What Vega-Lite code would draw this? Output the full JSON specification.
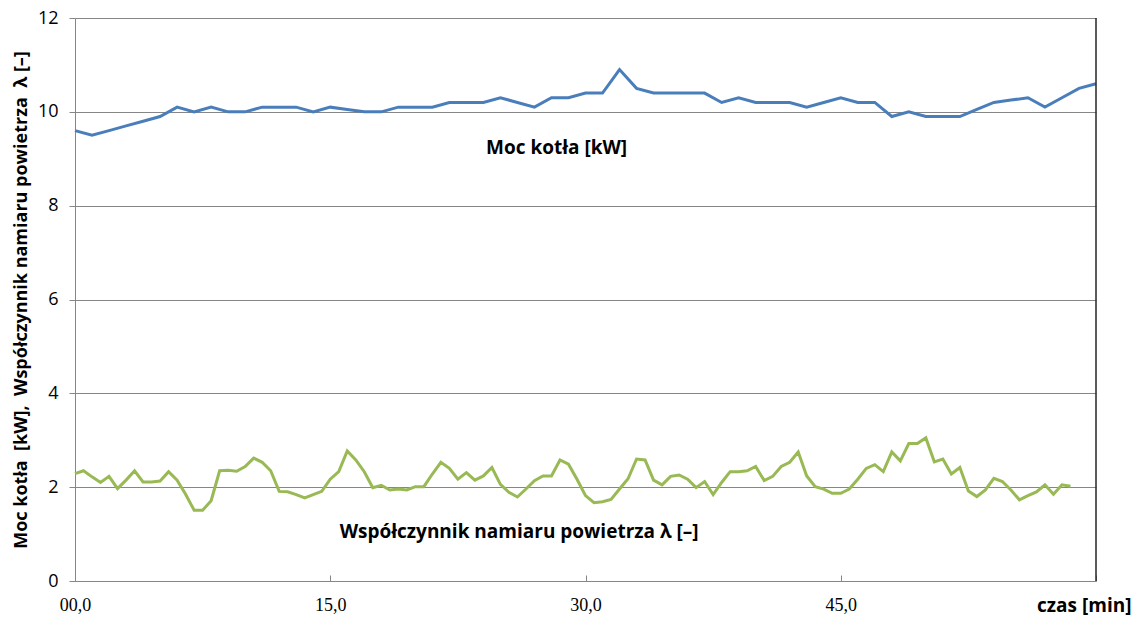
{
  "$schema": "https://vega.github.io/schema/vega-lite/v6.json",
  "width": 1021,
  "height": 563,
  "autosize": "none",
  "padding": {"left": 75, "top": 18, "right": 41, "bottom": 44},
  "background": "white",
  "config": {"view": {"stroke": null}, "font": "Lato"},
  "datasets": {
    "moc": [
      {"t": 0, "v": 9.6}, {"t": 1, "v": 9.5}, {"t": 2, "v": 9.6}, {"t": 3, "v": 9.7}, {"t": 4, "v": 9.8},
      {"t": 5, "v": 9.9}, {"t": 6, "v": 10.1}, {"t": 7, "v": 10.0}, {"t": 8, "v": 10.1}, {"t": 9, "v": 10.0},
      {"t": 10, "v": 10.0}, {"t": 11, "v": 10.1}, {"t": 12, "v": 10.1}, {"t": 13, "v": 10.1}, {"t": 14, "v": 10.0},
      {"t": 15, "v": 10.1}, {"t": 16, "v": 10.05}, {"t": 17, "v": 10.0}, {"t": 18, "v": 10.0}, {"t": 19, "v": 10.1},
      {"t": 20, "v": 10.1}, {"t": 21, "v": 10.1}, {"t": 22, "v": 10.2}, {"t": 23, "v": 10.2}, {"t": 24, "v": 10.2},
      {"t": 25, "v": 10.3}, {"t": 26, "v": 10.2}, {"t": 27, "v": 10.1}, {"t": 28, "v": 10.3}, {"t": 29, "v": 10.3},
      {"t": 30, "v": 10.4}, {"t": 31, "v": 10.4}, {"t": 32, "v": 10.9}, {"t": 33, "v": 10.5}, {"t": 34, "v": 10.4},
      {"t": 35, "v": 10.4}, {"t": 36, "v": 10.4}, {"t": 37, "v": 10.4}, {"t": 38, "v": 10.2}, {"t": 39, "v": 10.3},
      {"t": 40, "v": 10.2}, {"t": 41, "v": 10.2}, {"t": 42, "v": 10.2}, {"t": 43, "v": 10.1}, {"t": 44, "v": 10.2},
      {"t": 45, "v": 10.3}, {"t": 46, "v": 10.2}, {"t": 47, "v": 10.2}, {"t": 48, "v": 9.9}, {"t": 49, "v": 10.0},
      {"t": 50, "v": 9.9}, {"t": 51, "v": 9.9}, {"t": 52, "v": 9.9}, {"t": 53, "v": 10.05}, {"t": 54, "v": 10.2},
      {"t": 55, "v": 10.25}, {"t": 56, "v": 10.3}, {"t": 57, "v": 10.1}, {"t": 58, "v": 10.3}, {"t": 59, "v": 10.5},
      {"t": 60, "v": 10.6}
    ],
    "lambda": [
      {"t": 0, "v": 2.29}, {"t": 0.5, "v": 2.35}, {"t": 1, "v": 2.22}, {"t": 1.5, "v": 2.10}, {"t": 2, "v": 2.23},
      {"t": 2.5, "v": 1.97}, {"t": 3, "v": 2.15}, {"t": 3.5, "v": 2.35}, {"t": 4, "v": 2.11}, {"t": 4.5, "v": 2.11},
      {"t": 5, "v": 2.13}, {"t": 5.5, "v": 2.33}, {"t": 6, "v": 2.15}, {"t": 6.5, "v": 1.85}, {"t": 7, "v": 1.51},
      {"t": 7.5, "v": 1.51}, {"t": 8, "v": 1.71}, {"t": 8.5, "v": 2.35}, {"t": 9, "v": 2.36}, {"t": 9.5, "v": 2.34},
      {"t": 10, "v": 2.44}, {"t": 10.5, "v": 2.62}, {"t": 11, "v": 2.53}, {"t": 11.5, "v": 2.35}, {"t": 12, "v": 1.91},
      {"t": 12.5, "v": 1.90}, {"t": 13, "v": 1.84}, {"t": 13.5, "v": 1.77}, {"t": 14, "v": 1.84}, {"t": 14.5, "v": 1.91},
      {"t": 15, "v": 2.17}, {"t": 15.5, "v": 2.33}, {"t": 16, "v": 2.77}, {"t": 16.5, "v": 2.58}, {"t": 17, "v": 2.33},
      {"t": 17.5, "v": 1.99}, {"t": 18, "v": 2.04}, {"t": 18.5, "v": 1.94}, {"t": 19, "v": 1.96}, {"t": 19.5, "v": 1.94},
      {"t": 20, "v": 2.01}, {"t": 20.5, "v": 2.01}, {"t": 21, "v": 2.28}, {"t": 21.5, "v": 2.53}, {"t": 22, "v": 2.40},
      {"t": 22.5, "v": 2.17}, {"t": 23, "v": 2.31}, {"t": 23.5, "v": 2.15}, {"t": 24, "v": 2.24}, {"t": 24.5, "v": 2.42},
      {"t": 25, "v": 2.06}, {"t": 25.5, "v": 1.89}, {"t": 26, "v": 1.79}, {"t": 26.5, "v": 1.96}, {"t": 27, "v": 2.14},
      {"t": 27.5, "v": 2.24}, {"t": 28, "v": 2.24}, {"t": 28.5, "v": 2.58}, {"t": 29, "v": 2.49}, {"t": 29.5, "v": 2.17},
      {"t": 30, "v": 1.82}, {"t": 30.5, "v": 1.67}, {"t": 31, "v": 1.69}, {"t": 31.5, "v": 1.74}, {"t": 32, "v": 1.96},
      {"t": 32.5, "v": 2.18}, {"t": 33, "v": 2.60}, {"t": 33.5, "v": 2.58}, {"t": 34, "v": 2.15}, {"t": 34.5, "v": 2.05},
      {"t": 35, "v": 2.23}, {"t": 35.5, "v": 2.26}, {"t": 36, "v": 2.17}, {"t": 36.5, "v": 1.99}, {"t": 37, "v": 2.12},
      {"t": 37.5, "v": 1.84}, {"t": 38, "v": 2.10}, {"t": 38.5, "v": 2.33}, {"t": 39, "v": 2.33}, {"t": 39.5, "v": 2.35},
      {"t": 40, "v": 2.44}, {"t": 40.5, "v": 2.14}, {"t": 41, "v": 2.23}, {"t": 41.5, "v": 2.44}, {"t": 42, "v": 2.53},
      {"t": 42.5, "v": 2.75}, {"t": 43, "v": 2.24}, {"t": 43.5, "v": 2.01}, {"t": 44, "v": 1.96}, {"t": 44.5, "v": 1.87},
      {"t": 45, "v": 1.87}, {"t": 45.5, "v": 1.96}, {"t": 46, "v": 2.17}, {"t": 46.5, "v": 2.40}, {"t": 47, "v": 2.48},
      {"t": 47.5, "v": 2.33}, {"t": 48, "v": 2.75}, {"t": 48.5, "v": 2.56}, {"t": 49, "v": 2.93}, {"t": 49.5, "v": 2.93},
      {"t": 50, "v": 3.05}, {"t": 50.5, "v": 2.54}, {"t": 51, "v": 2.60}, {"t": 51.5, "v": 2.28}, {"t": 52, "v": 2.42},
      {"t": 52.5, "v": 1.92}, {"t": 53, "v": 1.80}, {"t": 53.5, "v": 1.94}, {"t": 54, "v": 2.19}, {"t": 54.5, "v": 2.12},
      {"t": 55, "v": 1.94}, {"t": 55.5, "v": 1.73}, {"t": 56, "v": 1.82}, {"t": 56.5, "v": 1.90}, {"t": 57, "v": 2.05},
      {"t": 57.5, "v": 1.85}, {"t": 58, "v": 2.05}, {"t": 58.5, "v": 2.02}
    ],
    "labels": [
      {"t": 28.3, "v": 9.23, "label": "Moc kotła [kW]"},
      {"t": 26.1, "v": 1.04, "label": "Współczynnik namiaru powietrza λ [–]"}
    ],
    "border": [{"t": 60}]
  },
  "layer": [
    {
      "data": {"name": "moc"},
      "mark": {"type": "line", "color": "#4A7EBB", "strokeWidth": 3},
      "encoding": {
        "x": {
          "field": "t", "type": "quantitative",
          "scale": {"domain": [0, 60], "nice": false, "zero": false},
          "axis": {
            "values": [0, 15, 30, 45, 60],
            "grid": false,
            "domainColor": "#868686",
            "tickColor": "#868686",
            "tickSize": -6,
            "labelFlush": false,
            "labelExpr": "datum.value == 0 ? '00,0' : datum.value == 60 ? '' : replace(format(datum.value, '.1f'), '.', ',')",
            "labelFontSize": 18,
            "labelColor": "#000000",
            "labelPadding": 21,
            "labelFont": "Liberation Sans Narrow",
            "title": "czas [min]",
            "titleFont": "Open Sans",
            "titleFontSize": 19,
            "titleFontWeight": "bold",
            "titleColor": "#000000",
            "titleAnchor": "end",
            "titleAlign": "right",
            "titleX": 1056,
            "titleY": 30,
            "titleBaseline": "alphabetic"
          }
        },
        "y": {
          "field": "v", "type": "quantitative",
          "scale": {"domain": [0, 12], "nice": false},
          "axis": {
            "values": [0, 2, 4, 6, 8, 10, 12],
            "grid": true,
            "gridColor": "#868686",
            "gridWidth": 1,
            "domainColor": "#868686",
            "tickColor": "#868686",
            "tickSize": 6,
            "labelFontSize": 18,
            "labelFont": "Open Sans",
            "labelColor": "#000000",
            "labelPadding": 11,
            "title": "Moc kotła\u00a0 [kW],\u00a0 Współczynnik namiaru powietrza\u00a0 λ [–]",
            "titleFont": "Open Sans",
            "titleFontSize": 18,
            "titleFontWeight": "bold",
            "titleColor": "#000000",
            "titlePadding": 7
          }
        }
      }
    },
    {
      "data": {"name": "lambda"},
      "mark": {"type": "line", "color": "#98B954", "strokeWidth": 3},
      "encoding": {
        "x": {"field": "t", "type": "quantitative"},
        "y": {"field": "v", "type": "quantitative"}
      }
    },
    {
      "data": {"name": "border"},
      "mark": {"type": "rule", "color": "#262626", "strokeWidth": 1.5},
      "encoding": {
        "x": {"field": "t", "type": "quantitative"}
      }
    },
    {
      "data": {"name": "labels"},
      "mark": {"type": "text", "font": "Open Sans", "fontSize": 19, "fontWeight": "bold", "color": "#000000", "align": "center", "baseline": "middle"},
      "encoding": {
        "x": {"field": "t", "type": "quantitative"},
        "y": {"field": "v", "type": "quantitative"},
        "text": {"field": "label"}
      }
    }
  ]
}
